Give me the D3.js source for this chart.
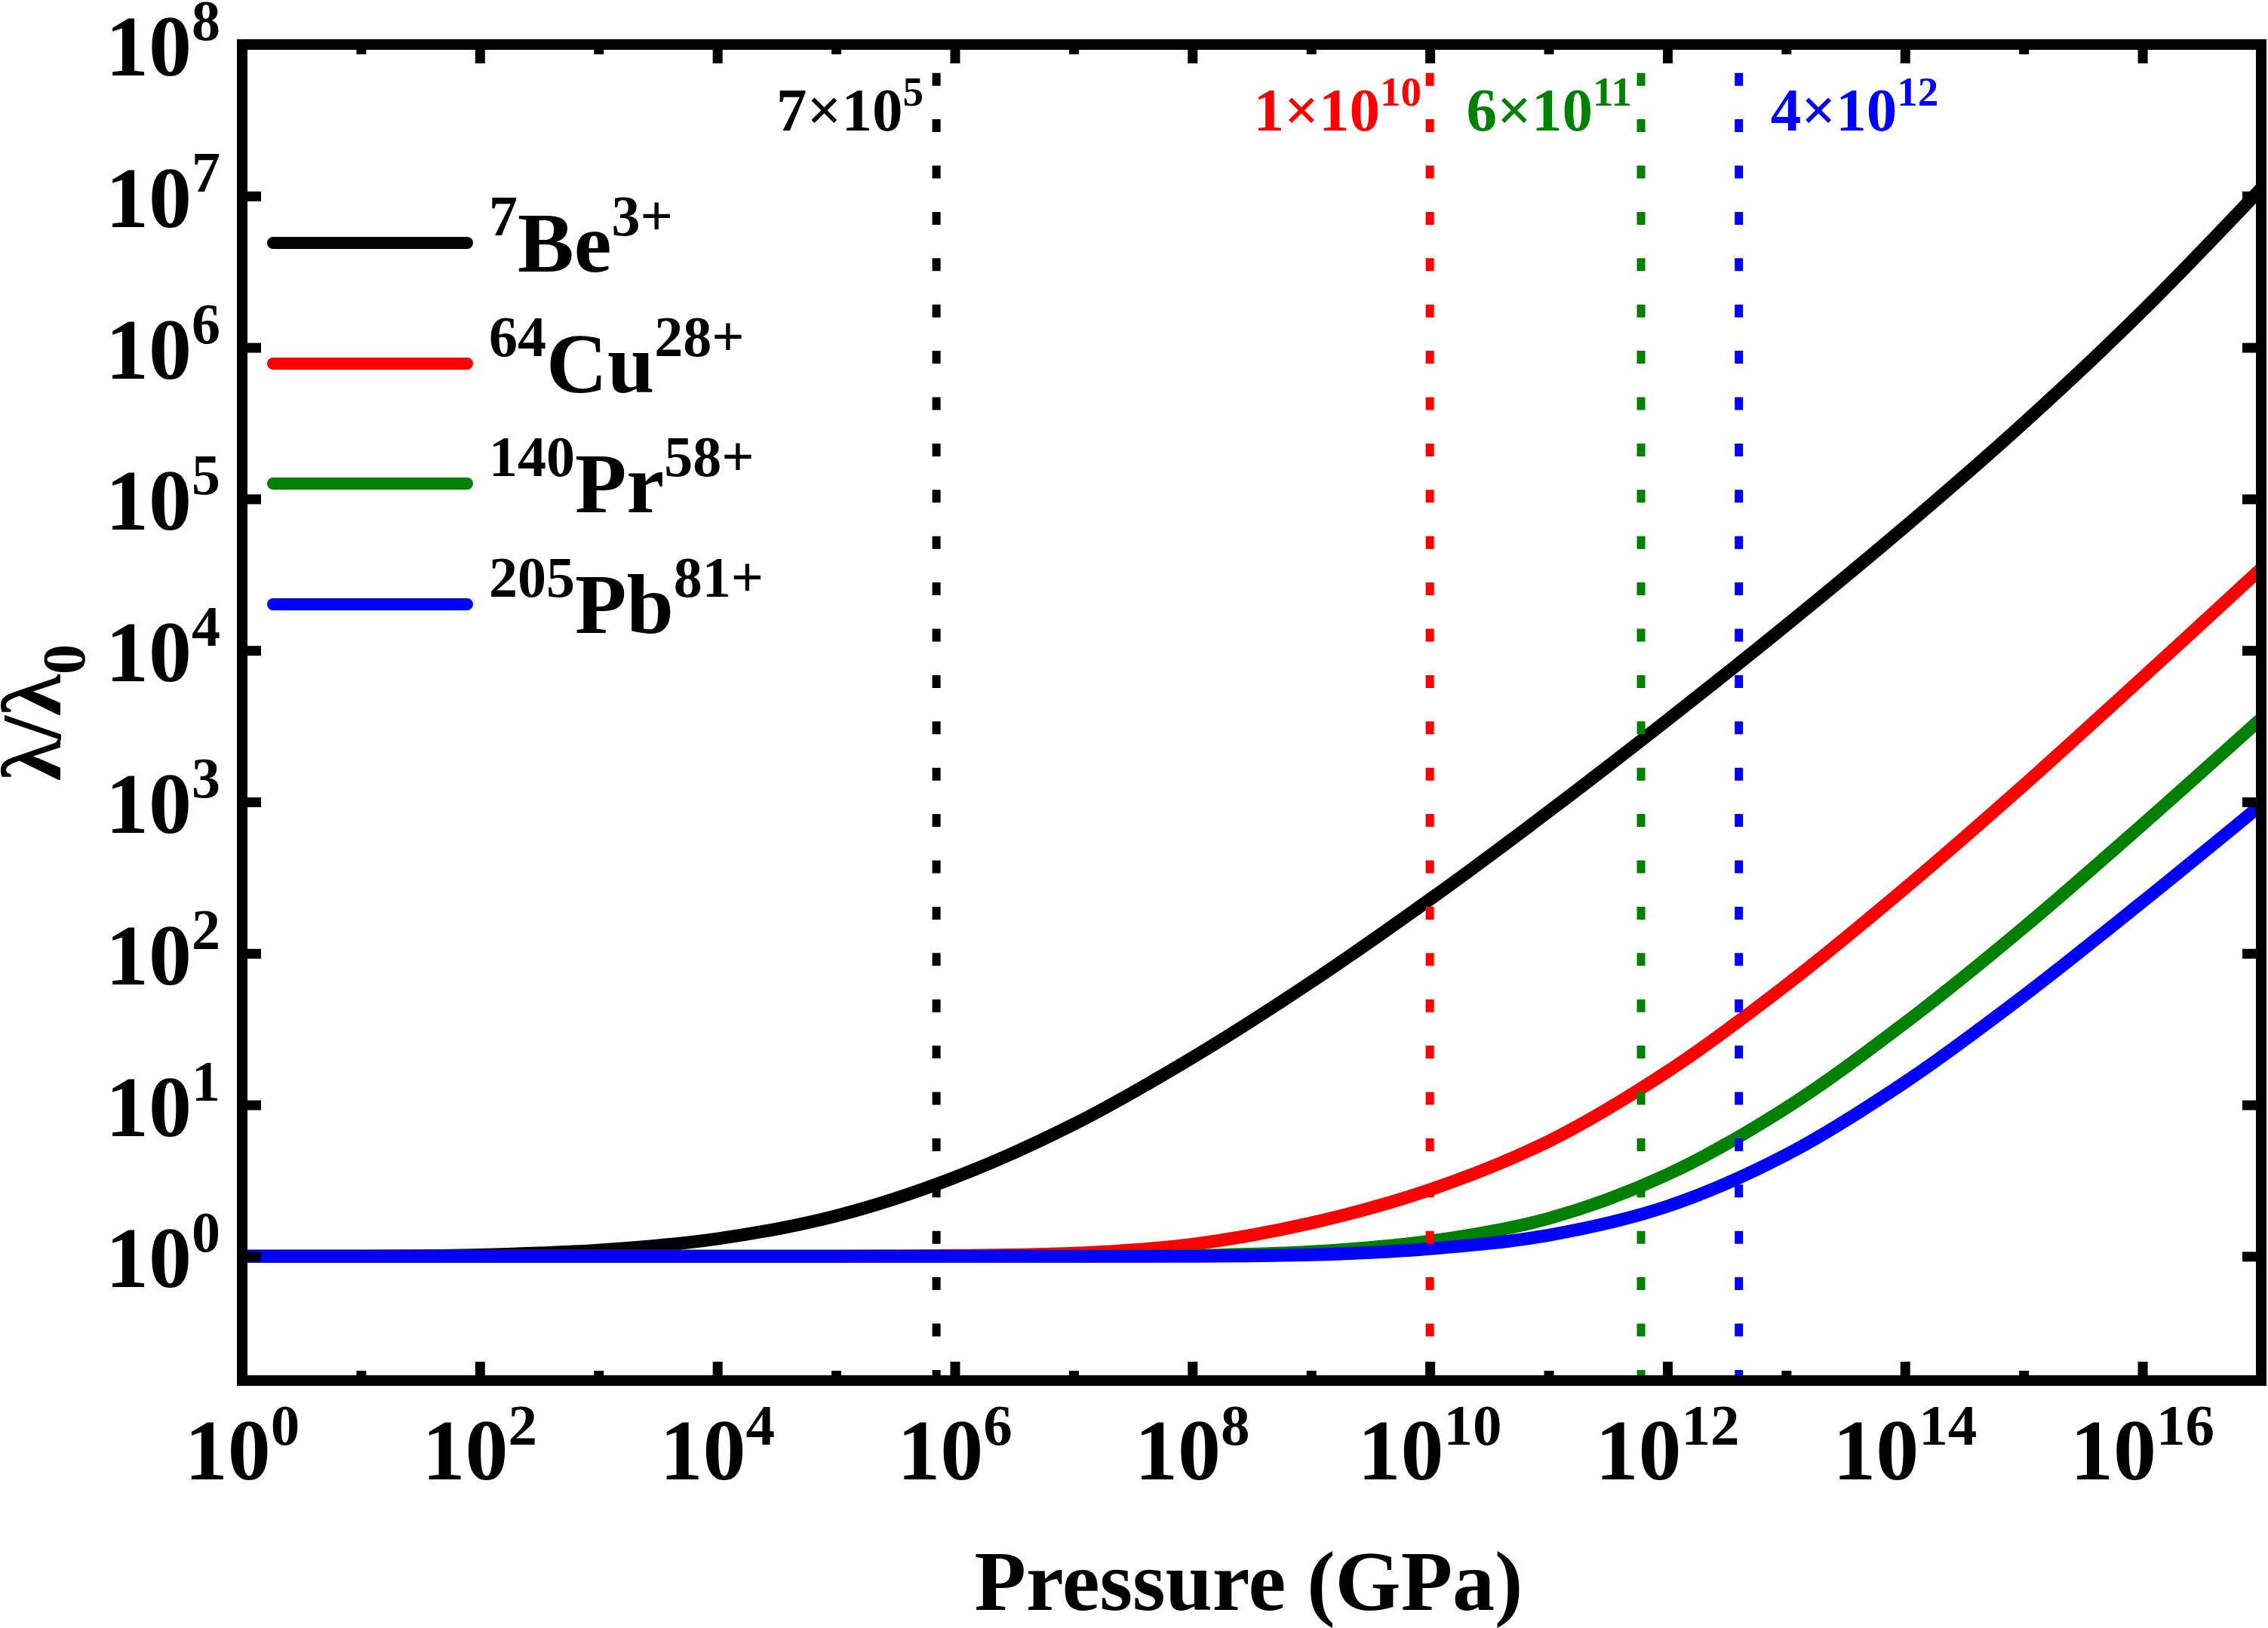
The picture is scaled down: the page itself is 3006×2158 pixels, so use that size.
<!DOCTYPE html>
<html>
<head>
<meta charset="utf-8">
<script src="https://cdn.jsdelivr.net/npm/d3@7"></script>
<style>
  body { margin: 0; background: #fff; }
  text { font-family: "Liberation Serif", "Times New Roman", serif; font-weight: bold; }
</style>
</head>
<body>
<div id="chart-area"></div>
<script>
// pressure grid (GPa), one point per decade
const pressure = [1e0, 1e1, 1e2, 1e3, 1e4, 1e5, 1e6, 1e7, 1e8, 1e9,
                  1e10, 1e11, 1e12, 1e13, 1e14, 1e15, 1e16, 1e17]

// lambda / lambda0
const beValues = [1.0, 1.002, 1.021, 1.099, 1.306, 1.85, 3.32, 7.43, 20.5, 64.7,
                  227, 863, 3475, 14660, 65460, 3.17e5, 1.74e6, 1.12e7]
const cuValues = [1.0, 1.0, 1.0, 1.0, 1.0, 1.002, 1.012, 1.047, 1.20, 1.66,
                  2.75, 5.75, 16.6, 61.7, 269, 1288, 6607, 34670]
const prValues = [1.0, 1.0, 1.0, 1.0, 1.0, 1.0, 1.0, 1.002, 1.012, 1.072,
                  1.259, 1.778, 3.47, 9.55, 34.7, 148, 708, 3548]
const pbValues = [1.0, 1.0, 1.0, 1.0, 1.0, 1.0, 1.0, 1.0, 1.002, 1.023,
                  1.122, 1.38, 2.14, 4.68, 14.1, 52.5, 219, 955]

// legend: mass number, symbol, charge
const seriesMass = ["7", "64", "140", "205"]
const seriesName = ["Be", "Cu", "Pr", "Pb"]
const seriesCharge = ["3+", "28+", "58+", "81+"]
const seriesColor = ["#000000", "#ff0000", "#008000", "#0000ff"]

// threshold pressures (dotted lines): mantissa, exponent
const markMantissa = [7, 1, 6, 4]
const markExponent = [5, 10, 11, 12]
const markColor = ["#000000", "#ff0000", "#008000", "#0000ff"]

// tick exponents
const xMajorExp = [0, 2, 4, 6, 8, 10, 12, 14, 16]
const xMinorExp = [1, 3, 5, 7, 9, 11, 13, 15]
const yMajorExp = [0, 1, 2, 3, 4, 5, 6, 7, 8]

const W = 3006, H = 2158
const LEFT = 321, RIGHT = 2997, TOP = 59, BOTTOM = 1830

const svg = d3.select("#chart-area").append("svg")
    .attr("width", W)
    .attr("height", H)

// scales
const x = d3.scaleLog().domain([1, 1e17]).range([LEFT, RIGHT])
const y = d3.scaleLog().domain([Math.pow(10, -0.82), 1e8]).range([BOTTOM, TOP])

svg.append("clipPath").attr("id", "plotClip")
  .append("rect")
    .attr("x", LEFT).attr("y", TOP)
    .attr("width", RIGHT - LEFT).attr("height", BOTTOM - TOP)

// curves
const series = [beValues, cuValues, prValues, pbValues]
const line = d3.line()
    .x(d => x(d[0]))
    .y(d => y(d[1]))
    .curve(d3.curveCatmullRom.alpha(0.5))

const curves = svg.append("g").attr("clip-path", "url(#plotClip)")
series.forEach((vals, i) => {
    curves.append("path")
        .attr("fill", "none")
        .attr("stroke", seriesColor[i])
        .attr("stroke-width", 17)
        .attr("stroke-linejoin", "round")
        .attr("d", line(pressure.map((p, j) => [p, vals[j]])))
})

// dotted threshold lines
markMantissa.forEach((m, i) => {
    const px = x(m * Math.pow(10, markExponent[i]))
    svg.append("line")
        .attr("x1", px).attr("x2", px)
        .attr("y1", TOP).attr("y2", BOTTOM)
        .attr("stroke", markColor[i])
        .attr("stroke-width", 11)
        .attr("stroke-dasharray", "17 44.4")
        .attr("stroke-dashoffset", 23.7)
})

// threshold labels
function markLabel(i, xPos, anchor) {
    const t = svg.append("text")
        .attr("x", xPos)
        .attr("y", 173)
        .attr("text-anchor", anchor)
        .attr("fill", markColor[i])
        .attr("font-size", 81)
    t.append("tspan").text(markMantissa[i] + "\u00d710")
    t.append("tspan").attr("font-size", 55).attr("dy", -33).text(markExponent[i])
}
markLabel(0, x(7e5) - 17, "end")
markLabel(1, x(1e10) - 11, "end")
markLabel(2, x(6e11) - 12, "end")
markLabel(3, x(4e12) + 42, "start")

// axes: ticks pointing inward
const axes = svg.append("g")
function tickAxis(gen, transform, vals, size) {
    const a = axes.append("g")
        .attr("transform", transform)
        .call(gen.tickValues(vals.map(e => Math.pow(10, e))).tickSize(-size).tickFormat(() => ""))
    a.select(".domain").remove()
    a.selectAll(".tick line").attr("stroke", "#000").attr("stroke-width", 13)
}
tickAxis(d3.axisBottom(x), `translate(0,${BOTTOM})`, xMajorExp, 25)
tickAxis(d3.axisBottom(x), `translate(0,${BOTTOM})`, xMinorExp, 13)
tickAxis(d3.axisTop(x), `translate(0,${TOP})`, xMajorExp, 25)
tickAxis(d3.axisTop(x), `translate(0,${TOP})`, xMinorExp, 13)
tickAxis(d3.axisLeft(y), `translate(${LEFT},0)`, yMajorExp, 25)
tickAxis(d3.axisRight(y), `translate(${RIGHT},0)`, yMajorExp, 25)

// frame
svg.append("rect")
    .attr("x", LEFT).attr("y", TOP)
    .attr("width", RIGHT - LEFT).attr("height", BOTTOM - TOP)
    .attr("fill", "none")
    .attr("stroke", "#000")
    .attr("stroke-width", 14)

// x tick labels
xMajorExp.forEach(e => {
    const t = svg.append("text")
        .attr("x", x(Math.pow(10, e)))
        .attr("y", 1961)
        .attr("text-anchor", "middle")
        .attr("font-size", 114)
    t.append("tspan").text("10")
    t.append("tspan").attr("font-size", 77).attr("dy", -46).text(e)
})

// y tick labels
yMajorExp.forEach(e => {
    const t = svg.append("text")
        .attr("x", 292)
        .attr("y", y(Math.pow(10, e)) + 41)
        .attr("text-anchor", "end")
        .attr("font-size", 114)
    t.append("tspan").text("10")
    t.append("tspan").attr("font-size", 76).attr("dy", -47).text(e)
})

// axis titles
svg.append("text")
    .attr("x", 1655)
    .attr("y", 2134)
    .attr("text-anchor", "middle")
    .attr("font-size", 112)
    .text("Pressure (GPa)")

const yTitle = svg.append("text")
    .attr("transform", `translate(80, ${(TOP + BOTTOM) / 2}) rotate(-90)`)
    .attr("text-anchor", "middle")
    .attr("font-size", 112)
yTitle.append("tspan").text("\u03bb/\u03bb")
yTitle.append("tspan").attr("font-size", 80).attr("dy", 32).text("0")

// legend
const legendY = [322, 482, 641, 801]
seriesName.forEach((name, i) => {
    svg.append("line")
        .attr("x1", 362).attr("x2", 619)
        .attr("y1", legendY[i]).attr("y2", legendY[i])
        .attr("stroke", seriesColor[i])
        .attr("stroke-width", 16)
        .attr("stroke-linecap", "round")
    const t = svg.append("text")
        .attr("x", 648)
        .attr("y", legendY[i] + 38)
        .attr("font-size", 112)
    t.append("tspan").attr("font-size", 76).attr("dy", -48).text(seriesMass[i])
    t.append("tspan").attr("dy", 48).text(name)
    t.append("tspan").attr("font-size", 76).attr("dy", -48).text(seriesCharge[i])
})
</script>
</body>
</html>
